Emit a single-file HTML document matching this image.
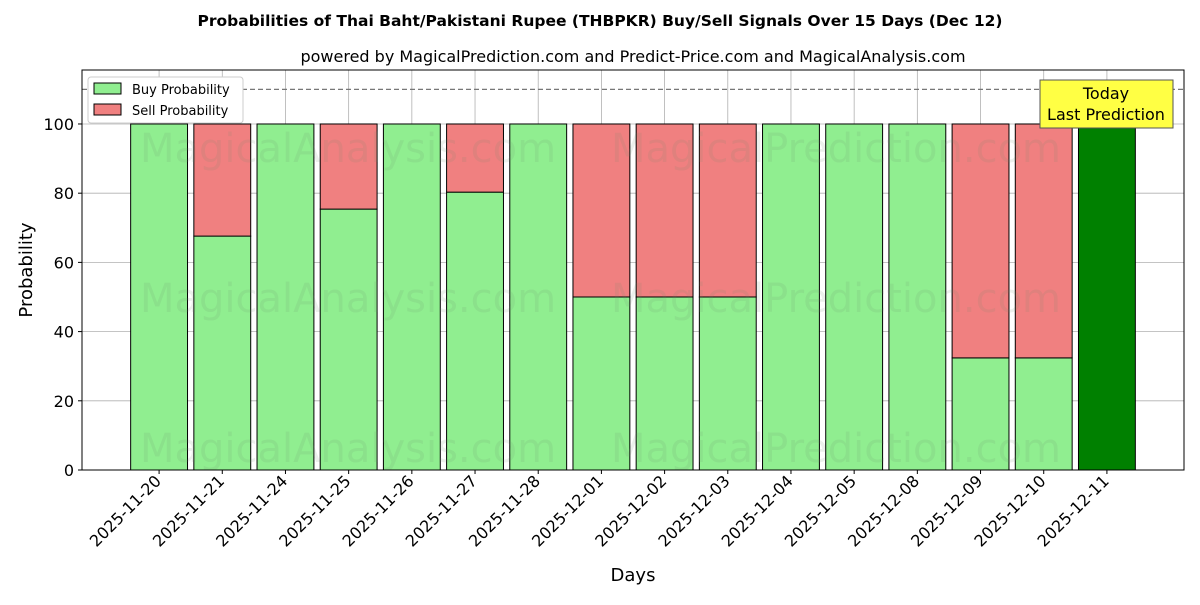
<!DOCTYPE html>
<html><head><meta charset="utf-8">
<style>
body{margin:0;background:#fff;}
svg text{font-family:"DejaVu Sans","Liberation Sans",sans-serif;}
</style></head>
<body>
<svg id="chart" width="1200" height="600" xmlns="http://www.w3.org/2000/svg">
<rect width="1200" height="600" fill="#fff"/>
<text x="600" y="26" text-anchor="middle" font-size="15.5" font-weight="bold">Probabilities of Thai Baht/Pakistani Rupee (THBPKR) Buy/Sell Signals Over 15 Days (Dec 12)</text>
<text x="633" y="62" text-anchor="middle" font-size="16">powered by MagicalPrediction.com and Predict-Price.com and MagicalAnalysis.com</text>
<g id="grid"></g>
<g id="bars"></g>
<g id="wm" fill="#6a8a6a" fill-opacity="0.13" font-size="40">
<text x="348" y="162" text-anchor="middle">MagicalAnalysis.com</text>
<text x="836" y="162" text-anchor="middle">MagicalPrediction.com</text>
<text x="348" y="312" text-anchor="middle">MagicalAnalysis.com</text>
<text x="836" y="312" text-anchor="middle">MagicalPrediction.com</text>
<text x="348" y="462" text-anchor="middle">MagicalAnalysis.com</text>
<text x="836" y="462" text-anchor="middle">MagicalPrediction.com</text>
</g>
<g id="axes"></g>
<line id="thr" x1="82" x2="1184" stroke="#777" stroke-dasharray="5,3" stroke-width="1.2"/>
<rect x="82" y="70" width="1102" height="400" fill="none" stroke="#000" stroke-width="1"/>
<g>
<rect x="88" y="77" width="155" height="46" fill="#fff" stroke="#ccc" rx="3"/>
<rect x="94" y="83" width="27" height="11" fill="#90ee90" stroke="#000"/>
<text x="132" y="94" font-size="13">Buy Probability</text>
<rect x="94" y="104" width="27" height="11" fill="#f08080" stroke="#000"/>
<text x="132" y="115" font-size="13">Sell Probability</text>
</g>
<g>
<rect x="1040" y="80" width="133" height="48" fill="#ffff44" stroke="#555"/>
<text x="1106" y="99" text-anchor="middle" font-size="16">Today</text>
<text x="1106" y="120" text-anchor="middle" font-size="16">Last Prediction</text>
</g>
<text x="633" y="581" text-anchor="middle" font-size="18">Days</text>
<text transform="translate(32,270) rotate(-90)" text-anchor="middle" font-size="18">Probability</text>
</svg>
<script>
const days=["2025-11-20","2025-11-21","2025-11-24","2025-11-25","2025-11-26","2025-11-27","2025-11-28","2025-12-01","2025-12-02","2025-12-03","2025-12-04","2025-12-05","2025-12-08","2025-12-09","2025-12-10","2025-12-11"];
const buyValues=[100,67.6,100,75.4,100,80.3,100,50,50,50,100,100,100,32.4,32.4,100];
const sellValues=[0,32.4,0,24.6,0,19.7,0,50,50,50,0,0,0,67.6,67.6,0];
const yTicks=[0,20,40,60,80,100];
const threshold=110;
const NS="http://www.w3.org/2000/svg";
const X0=82,X1=1184,Y0=470,Y1=70,xmin=-1.22,xmax=16.22,ymin=0,ymax=115.6;
const xs=i=>X0+(i-xmin)/(xmax-xmin)*(X1-X0);
const ys=v=>Y0-(v-ymin)/(ymax-ymin)*(Y0-Y1);
function mk(tag,attrs,parent){const e=document.createElementNS(NS,tag);for(const k in attrs)e.setAttribute(k,attrs[k]);parent.appendChild(e);return e;}
const grid=document.getElementById('grid'),bars=document.getElementById('bars'),axes=document.getElementById('axes');
yTicks.forEach(t=>{
  const y=ys(t);
  const l=mk('line',{x1:X0,x2:X1,y1:y,y2:y,stroke:'#b0b0b0','stroke-width':0.8},grid);
  
  
  mk('line',{x1:X0-4,x2:X0,y1:y,y2:y,stroke:'#000'},axes);
  const tx=mk('text',{x:X0-8,y:y+6,'text-anchor':'end','font-size':16},axes);
  tx.textContent=t;
  
  
});
const bw=0.9*(xs(1)-xs(0));
days.forEach((d,i)=>{
  const cx=xs(i);
  const g=mk('line',{x1:cx,x2:cx,y1:Y1,y2:Y0,stroke:'#b0b0b0','stroke-width':0.8},grid);
  
  
  const last=i===days.length-1;
  const b=mk('rect',{x:cx-bw/2,y:ys(buyValues[i]),width:bw,height:ys(0)-ys(buyValues[i]),fill:last?'#008000':'#90ee90',stroke:'#000','stroke-width':1},bars);
  
  
  if(sellValues[i]>0){
    const s=mk('rect',{x:cx-bw/2,y:ys(buyValues[i]+sellValues[i]),width:bw,height:ys(buyValues[i])-ys(buyValues[i]+sellValues[i]),fill:'#f08080',stroke:'#000','stroke-width':1},bars);
    
    
  }
  mk('line',{x1:cx,x2:cx,y1:Y0,y2:Y0+4,stroke:'#000'},axes);
  const t=mk('text',{transform:`translate(${cx+3},${Y0+12}) rotate(-45)`,'text-anchor':'end','font-size':16},axes);
  t.textContent=d;
  
  
});
const th=document.getElementById('thr');th.setAttribute('y1',ys(threshold));th.setAttribute('y2',ys(threshold));
</script>
</body></html>
